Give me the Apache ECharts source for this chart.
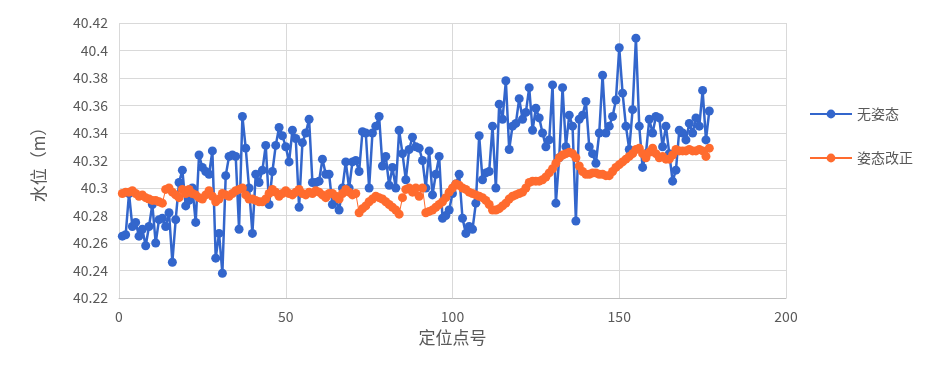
<!DOCTYPE html>
<html><head><meta charset="utf-8">
<script src="https://cdn.jsdelivr.net/npm/echarts@6/dist/echarts.min.js"></script>
<style>html,body{margin:0;padding:0;background:#fff}#c{width:932px;height:375px}</style>
</head><body><div id="c"></div>
<script>
const seriesNames = ['无姿态', '姿态改正'];
const xTicks = [0, 50, 100, 150, 200];
const yTicks = [40.22, 40.24, 40.26, 40.28, 40.30, 40.32, 40.34, 40.36, 40.38, 40.40, 40.42];
const blueValues = [
40.265,40.266,40.296,40.272,40.275,40.265,40.270,40.258,40.272,40.288,
40.260,40.277,40.278,40.272,40.282,40.246,40.277,40.304,40.313,40.287,
40.291,40.300,40.275,40.324,40.315,40.312,40.310,40.327,40.249,40.267,
40.238,40.309,40.323,40.324,40.323,40.270,40.352,40.329,40.300,40.267,
40.310,40.304,40.313,40.331,40.288,40.312,40.331,40.344,40.338,40.330,
40.319,40.342,40.336,40.286,40.333,40.340,40.350,40.304,40.304,40.305,
40.321,40.310,40.310,40.288,40.292,40.284,40.300,40.319,40.300,40.319,
40.320,40.312,40.341,40.340,40.300,40.340,40.345,40.352,40.316,40.323,
40.302,40.315,40.300,40.342,40.325,40.306,40.328,40.337,40.330,40.329,
40.320,40.300,40.327,40.295,40.310,40.323,40.278,40.280,40.284,40.296,
40.303,40.310,40.278,40.267,40.272,40.270,40.289,40.338,40.306,40.311,
40.312,40.345,40.300,40.361,40.350,40.378,40.328,40.345,40.347,40.365,
40.350,40.355,40.373,40.342,40.358,40.351,40.340,40.330,40.335,40.375,
40.289,40.322,40.373,40.330,40.353,40.345,40.276,40.350,40.353,40.363,
40.330,40.325,40.318,40.340,40.382,40.340,40.345,40.352,40.364,40.402,
40.369,40.345,40.328,40.357,40.409,40.345,40.315,40.325,40.350,40.340,
40.352,40.351,40.330,40.345,40.325,40.305,40.313,40.342,40.340,40.335,
40.347,40.340,40.351,40.345,40.371,40.335,40.356
];
const orangeValues = [
40.296,40.297,40.297,40.298,40.296,40.294,40.295,40.293,40.292,40.291,
40.291,40.290,40.289,40.299,40.300,40.297,40.295,40.293,40.299,40.296,
40.299,40.296,40.295,40.293,40.292,40.295,40.298,40.294,40.290,40.292,
40.296,40.295,40.294,40.296,40.298,40.299,40.300,40.295,40.292,40.292,
40.291,40.290,40.290,40.292,40.296,40.299,40.297,40.294,40.296,40.298,
40.296,40.295,40.297,40.299,40.296,40.295,40.297,40.296,40.298,40.297,
40.295,40.293,40.296,40.296,40.294,40.292,40.296,40.299,40.297,40.295,
40.296,40.282,40.285,40.287,40.290,40.292,40.294,40.293,40.292,40.290,
40.288,40.286,40.284,40.281,40.293,40.299,40.300,40.297,40.300,40.294,
40.300,40.282,40.283,40.284,40.286,40.288,40.290,40.293,40.297,40.300,
40.303,40.302,40.300,40.299,40.297,40.296,40.295,40.294,40.293,40.291,
40.288,40.284,40.284,40.285,40.287,40.289,40.292,40.294,40.295,40.296,
40.297,40.300,40.304,40.305,40.305,40.305,40.306,40.308,40.311,40.314,
40.318,40.322,40.324,40.325,40.326,40.325,40.322,40.316,40.312,40.310,
40.310,40.311,40.311,40.310,40.310,40.309,40.309,40.312,40.315,40.317,
40.319,40.321,40.323,40.325,40.328,40.329,40.325,40.322,40.326,40.329,
40.325,40.322,40.323,40.321,40.321,40.324,40.328,40.327,40.327,40.327,
40.328,40.327,40.327,40.328,40.327,40.323,40.329
];
const pointNumbers = blueValues.map((_, i) => i + 1);

const fontFam = '"Noto Sans CJK SC", "Noto Sans", sans-serif';
const txt = '#595959';
const chart = echarts.init(document.getElementById('c'));
chart.setOption({
  animation: false,
  textStyle: { fontFamily: fontFam },
  grid: { left: 119, right: 146, top: 23, bottom: 77, containLabel: false },
  legend: {
    orient: 'vertical', left: 804, top: 102, itemGap: 30,
    itemWidth: 42, itemHeight: 11,
    textStyle: { color: txt, fontSize: 14, fontFamily: fontFam },
    data: seriesNames
  },
  xAxis: {
    type: 'value', min: xTicks[0], max: xTicks[xTicks.length - 1], interval: 50,
    name: '定位点号', nameLocation: 'middle', nameGap: 29,
    nameTextStyle: { color: txt, fontSize: 17, fontFamily: fontFam },
    axisLine: { show: true, lineStyle: { color: '#bfbfbf', width: 1 } },
    axisTick: { show: false },
    axisLabel: { color: txt, fontSize: 14, margin: 12 },
    splitLine: { show: true, lineStyle: { color: '#d9d9d9', width: 1 } }
  },
  yAxis: {
    type: 'value', min: yTicks[0], max: yTicks[yTicks.length - 1], interval: 0.02,
    name: '水位（m）', nameLocation: 'middle', nameGap: 72, nameRotate: 90,
    nameTextStyle: { color: txt, fontSize: 17, fontFamily: fontFam },
    axisLine: { show: false },
    axisTick: { show: false },
    axisLabel: { color: txt, fontSize: 14, margin: 11,
      formatter: v => String(parseFloat(v.toFixed(2))) },
    splitLine: { show: true, lineStyle: { color: '#d9d9d9', width: 1 } }
  },
  series: [
    {
      name: seriesNames[0], type: 'line',
      data: pointNumbers.map((x, i) => [x, blueValues[i]]),
      symbol: 'circle', symbolSize: 9,
      itemStyle: { color: '#3366cc' },
      lineStyle: { color: '#3366cc', width: 2.5 },
      z: 2
    },
    {
      name: seriesNames[1], type: 'line',
      data: pointNumbers.map((x, i) => [x, orangeValues[i]]),
      symbol: 'circle', symbolSize: 9,
      itemStyle: { color: '#ff6b2e' },
      lineStyle: { color: '#ff6b2e', width: 1 },
      z: 3
    }
  ]
});
</script>
</body></html>
